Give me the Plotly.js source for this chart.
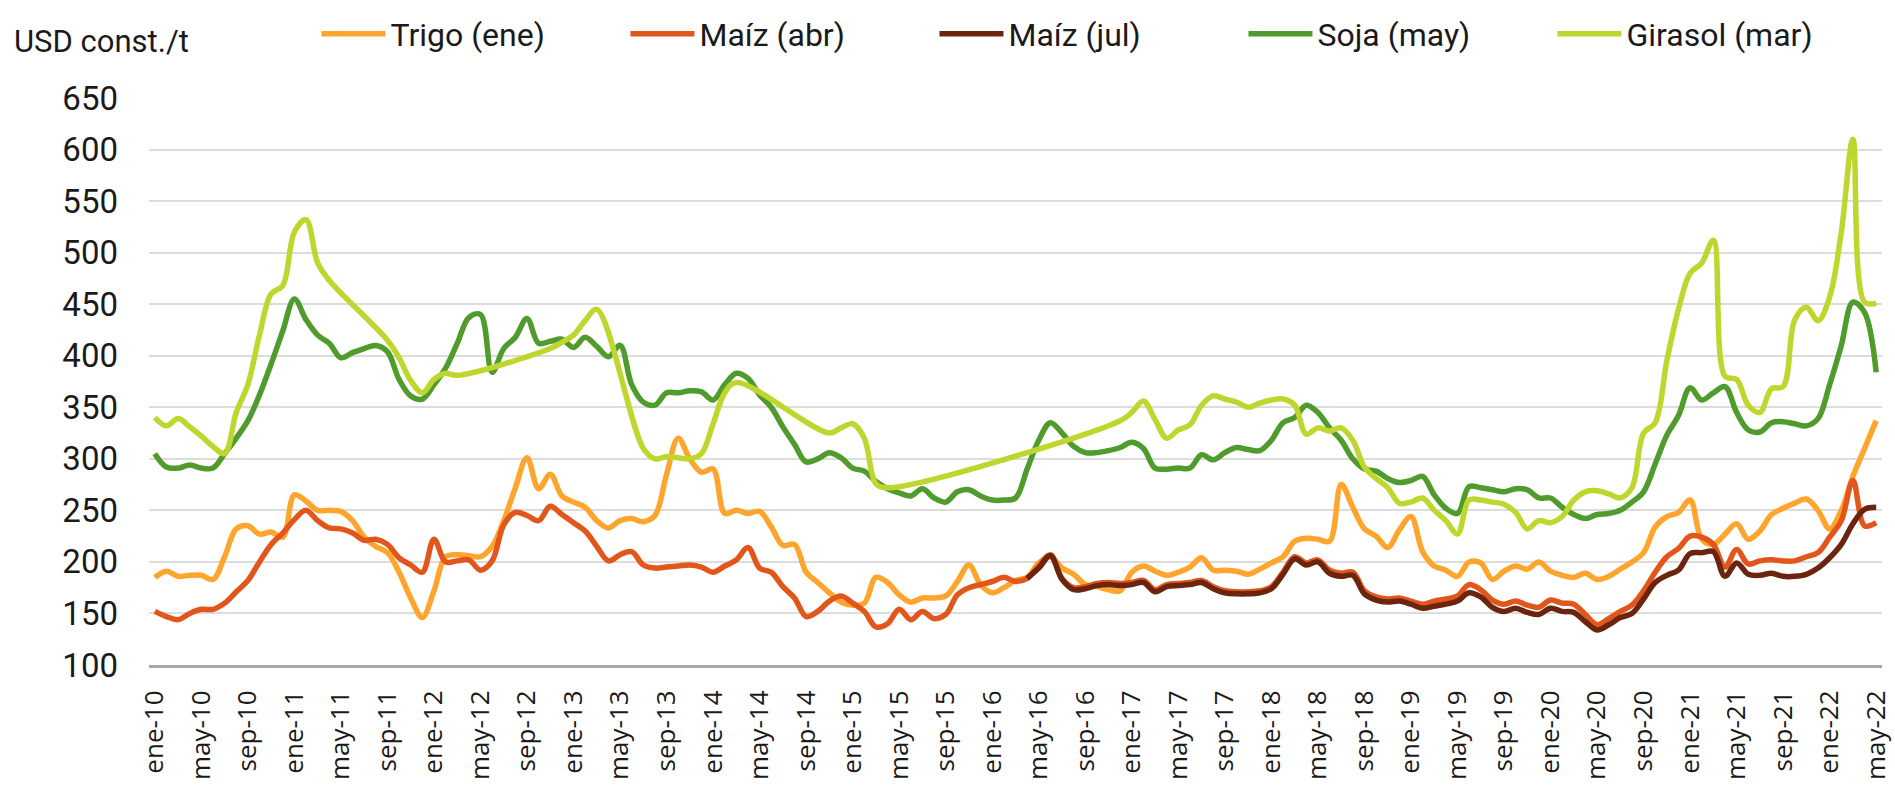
<!DOCTYPE html>
<html>
<head>
<meta charset="utf-8">
<script src="https://cdn.plot.ly/plotly-3.0.1.min.js"></script>
<style>
  html, body { margin: 0; padding: 0; background: #ffffff; }
  #chart { width: 1895px; height: 789px; }
</style>
</head>
<body>
<div id="chart"></div>
<script>
// ---- Data (USD constantes por tonelada), mensual ene-10 .. may-22 ----
const monthNames = ["ene","feb","mar","abr","may","jun","jul","ago","sep","oct","nov","dic"];
const startYear = 10;
const nMonths = 149;

const trigo = [185,191,186,187,187,183,205,232,235,227,229,224,265,259,250,250,249,240,224,215,
  209,190,165,146,172,205,207,206,205,215,240,272,301,271,285,264,258,253,240,233,
  240,242,239,245,285,320,300,287,290,247,250,247,249,234,216,217,190,180,170,161,
  158,160,185,180,168,161,165,165,167,181,197,178,170,175,182,185,199,205,194,188,
  178,176,173,172,190,196,191,187,190,195,204,192,192,191,188,193,199,205,220,223,
  222,220,275,253,232,225,214,231,244,210,196,192,186,200,199,183,191,196,193,200,
  191,187,185,189,183,186,193,200,209,234,244,248,260,222,217,227,237,222,230,246,
  252,257,261,250,232,250,283,310,337];

const maizAbr = [152,147,144,150,154,154,160,171,182,200,217,228,241,250,240,233,232,228,221,222,
  217,204,197,190,222,200,201,202,192,201,236,248,245,240,254,246,238,230,215,201,
  207,210,197,194,195,196,197,195,190,196,202,214,194,190,176,165,147,152,162,167,
  160,152,137,140,154,144,152,145,149,168,175,178,181,185,181,184,196,207,184,175,
  176,179,180,179,180,182,173,178,179,180,182,176,172,171,171,172,176,190,205,199,
  202,192,189,190,172,166,164,165,162,159,162,164,167,178,173,163,159,162,158,156,
  163,160,159,149,139,145,152,158,172,190,205,213,225,224,217,195,212,198,201,202,
  201,201,205,209,224,240,279,235,238];

const maizJul = [null,null,null,null,null,null,null,null,null,null,null,null,null,null,null,null,null,null,null,null,
  null,null,null,null,null,null,null,null,null,null,null,null,null,null,null,null,null,null,null,null,
  null,null,null,null,null,null,null,null,null,null,null,null,null,null,null,null,null,null,null,null,
  null,null,null,null,null,null,null,null,null,null,null,null,null,null,null,184,194,206,183,173,
  174,177,178,177,178,180,171,176,177,178,180,174,170,169,169,170,174,188,203,197,
  200,189,186,187,169,163,161,162,159,155,157,159,162,170,166,156,152,155,151,149,
  155,152,151,142,134,139,146,150,164,180,187,192,208,209,210,186,199,188,187,189,
  186,186,188,194,204,217,237,251,253];

const soja = [305,292,291,294,291,291,305,320,337,362,392,424,455,435,420,412,398,403,407,410,
  404,377,361,358,372,388,412,437,440,384,407,418,436,412,414,416,408,418,409,399,
  410,372,355,352,364,364,366,365,357,372,383,378,362,350,331,314,297,300,306,301,
  291,288,278,271,267,264,271,262,258,268,270,264,260,260,262,290,318,335,325,312,
  306,306,308,311,316,310,291,290,291,291,304,299,306,311,309,308,318,335,340,352,
  345,330,318,300,290,288,281,277,279,283,265,252,247,273,272,270,268,271,270,262,
  262,253,246,242,246,247,250,258,268,295,323,342,369,357,364,370,345,328,326,335,
  336,334,332,339,372,410,452,442,384];

const girasol = [340,332,339,331,322,312,305,345,372,420,460,468,520,532,490,473,null,null,null,null,
  415,398,376,364,377,383,381,null,null,null,null,null,null,null,407,413,420,434,445,null,
  null,null,310,300,302,301,300,305,334,364,374,null,null,null,null,null,null,null,325,330,
  334,320,276,272,null,null,null,null,null,null,null,null,null,null,null,null,null,null,null,null,
  null,null,null,337,345,356,338,320,328,333,352,361,358,355,350,354,357,358,352,324,
  330,327,330,318,292,281,272,257,258,262,250,240,227,260,260,258,256,248,232,240,
  238,244,260,268,269,266,262,272,325,335,395,445,480,490,512,380,377,352,345,368,
  370,435,447,434,457,520,610,452,451];

// Category labels (ene-10 ... may-22) and tick labels every 4 months
const categories = [];
for (let i = 0; i < nMonths; i++) {
  const y = startYear + Math.floor(i / 12);
  categories.push(monthNames[i % 12] + "-" + String(y).padStart(2, "0"));
}
const tickLabels = categories.filter((c, i) => i % 4 === 0);

const seriesNames = ["Trigo (ene)", "Maíz (abr)", "Maíz (jul)", "Soja (may)", "Girasol (mar)"];
const seriesData = [trigo, maizAbr, maizJul, soja, girasol];
const seriesColors = ["#FFA42C", "#E2561B", "#6B240E", "#4F9B2B", "#BFD62E"];

const traces = seriesData.map((d, k) => ({
  type: "scatter",
  mode: "lines",
  name: seriesNames[k],
  x: categories,
  y: d,
  connectgaps: true,
  line: { color: seriesColors[k], width: 5.5, shape: "spline", smoothing: 1 },
  hoverinfo: "x+y+name"
}));

const layout = {
  width: 1895,
  height: 789,
  paper_bgcolor: "#ffffff",
  plot_bgcolor: "#ffffff",
  margin: { l: 149, r: 13, t: 98, b: 124 },
  font: { family: "Roboto, 'Noto Sans', sans-serif", color: "#1a1a1a", size: 30 },
  showlegend: true,
  legend: {
    orientation: "h",
    xref: "container", yref: "container",
    x: 0.167, y: 0.957, xanchor: "left", yanchor: "middle",
    entrywidth: 230, entrywidthmode: "pixels",
    itemwidth: 64,
    font: { family: "Roboto, sans-serif", size: 32, color: "#1a1a1a" },
    bgcolor: "rgba(0,0,0,0)",
    traceorder: "normal"
  },
  xaxis: {
    type: "category",
    range: [-0.5, 148.5],
    tickmode: "array",
    tickvals: tickLabels,
    ticktext: tickLabels,
    tickangle: -90,
    tickfont: { family: "'Open Sans', 'DejaVu Sans', sans-serif", size: 26, color: "#1a1a1a" },
    ticks: "",
    ticklabelstandoff: 12,
    showgrid: false,
    zeroline: false,
    showline: true,
    linecolor: "#A6A6A6",
    linewidth: 3,
    fixedrange: true
  },
  yaxis: {
    range: [100, 650],
    dtick: 50,
    tick0: 100,
    tickfont: { family: "Roboto, sans-serif", size: 33, color: "#1a1a1a" },
    showgrid: true,
    gridcolor: "#DCDCDC",
    gridwidth: 2,
    zeroline: false,
    showline: false,
    ticks: "",
    ticklabelstandoff: 30,
    fixedrange: true
  },
  annotations: [{
    text: "USD const./t",
    xref: "paper", yref: "paper",
    x: -0.079, y: 1.099,
    xanchor: "left", yanchor: "middle",
    showarrow: false,
    font: { family: "Roboto, sans-serif", size: 31, color: "#1a1a1a" }
  }]
};

Plotly.newPlot("chart", traces, layout, { displayModeBar: false, staticPlot: true });
</script>
</body>
</html>
